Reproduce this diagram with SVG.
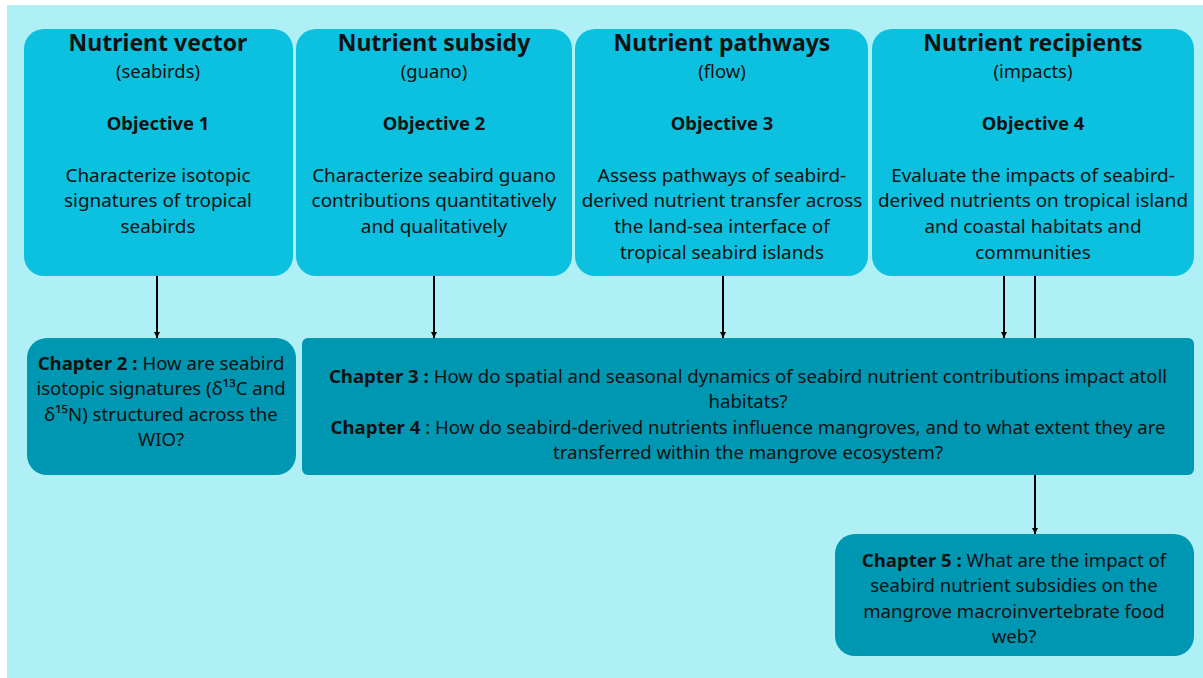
<svg xmlns="http://www.w3.org/2000/svg" width="1203" height="678" viewBox="0 0 1203 678">
<defs>
<style>
.obj{fill:#0CC0DF}
.ch{fill:#0097B2}
text{font-family:"Noto Sans","Open Sans",sans-serif;fill:#111;text-anchor:middle}
.t{font-size:23px;font-weight:bold}
.s{font-size:18.4px}
.o{font-size:18.4px;font-weight:bold}
.b{font-size:18.9px}
.c{font-size:18.6px}
.bd{font-weight:bold}
.ln{stroke:#000;stroke-width:2;fill:none}
</style>
<marker id="ah" viewBox="0 0 10 10" refX="10" refY="5" markerWidth="6" markerHeight="6" markerUnits="userSpaceOnUse" orient="auto">
<path d="M0,0 L10,5 L0,10 z" fill="#000"/>
</marker>
</defs>
<rect x="0" y="0" width="1203" height="678" fill="#fff"/>
<rect x="7" y="5" width="1196" height="673" fill="#AEF0F5"/>

<g id="obj1">
<rect class="obj" x="24" y="29" width="269" height="247" rx="20"/>
<text class="t" x="158" y="51">Nutrient vector</text>
<text class="s" x="158" y="78">(seabirds)</text>
<text class="o" x="158" y="130">Objective 1</text>
<text class="b" x="158" y="182">Characterize isotopic</text>
<text class="b" x="158" y="207">signatures of tropical</text>
<text class="b" x="158" y="233">seabirds</text>
</g>
<g id="obj2">
<rect class="obj" x="296" y="29" width="276" height="247" rx="20"/>
<text class="t" x="434" y="51">Nutrient subsidy</text>
<text class="s" x="434" y="78">(guano)</text>
<text class="o" x="434" y="130">Objective 2</text>
<text class="b" x="434" y="182">Characterize seabird guano</text>
<text class="b" x="434" y="207">contributions quantitatively</text>
<text class="b" x="434" y="233">and qualitatively</text>
</g>
<g id="obj3">
<rect class="obj" x="575" y="29" width="293" height="247" rx="20"/>
<text class="t" x="722" y="51">Nutrient pathways</text>
<text class="s" x="722" y="78">(flow)</text>
<text class="o" x="722" y="130">Objective 3</text>
<text class="b" x="722" y="182">Assess pathways of seabird-</text>
<text class="b" x="722" y="207">derived nutrient transfer across</text>
<text class="b" x="722" y="233">the land-sea interface of</text>
<text class="b" x="722" y="259">tropical seabird islands</text>
</g>
<g id="obj4">
<rect class="obj" x="872" y="29" width="322" height="247" rx="20"/>
<text class="t" x="1033" y="51">Nutrient recipients</text>
<text class="s" x="1033" y="78">(impacts)</text>
<text class="o" x="1033" y="130">Objective 4</text>
<text class="b" x="1033" y="182">Evaluate the impacts of seabird-</text>
<text class="b" x="1033" y="207">derived nutrients on tropical island</text>
<text class="b" x="1033" y="233">and coastal habitats and</text>
<text class="b" x="1033" y="259">communities</text>
</g>

<g id="chapter2">
<rect class="ch" x="27" y="338" width="269" height="137" rx="20"/>
<text class="c" x="161" y="370"><tspan class="bd">Chapter 2 :</tspan> How are seabird</text>
<text class="c" x="161" y="395">isotopic signatures (δ¹³C and</text>
<text class="c" x="161" y="421">δ¹⁵N) structured across the</text>
<text class="c" x="161" y="446">WIO?</text>
</g>
<g id="chapter34">
<rect class="ch" x="302" y="338" width="892" height="137" rx="6"/>
<text class="c" x="748" y="383"><tspan class="bd">Chapter 3 :</tspan> How do spatial and seasonal dynamics of seabird nutrient contributions impact atoll</text>
<text class="c" x="748" y="408">habitats?</text>
<text class="c" x="748" y="434"><tspan class="bd">Chapter 4</tspan> : How do seabird-derived nutrients influence mangroves, and to what extent they are</text>
<text class="c" x="748" y="459">transferred within the mangrove ecosystem?</text>
</g>
<g id="chapter5">
<rect class="ch" x="835" y="534" width="359" height="122" rx="20"/>
<text class="c" x="1014" y="567"><tspan class="bd">Chapter 5 :</tspan> What are the impact of</text>
<text class="c" x="1014" y="592">seabird nutrient subsidies on the</text>
<text class="c" x="1014" y="618">mangrove macroinvertebrate food</text>
<text class="c" x="1014" y="643">web?</text>
</g>

<g id="connectors">
<line class="ln" x1="157" y1="276" x2="157" y2="338" marker-end="url(#ah)"/>
<line class="ln" x1="434" y1="276" x2="434" y2="338" marker-end="url(#ah)"/>
<line class="ln" x1="723" y1="276" x2="723" y2="338" marker-end="url(#ah)"/>
<line class="ln" x1="1004" y1="276" x2="1004" y2="338" marker-end="url(#ah)"/>
<line class="ln" x1="1035" y1="276" x2="1035" y2="338"/>
<line class="ln" x1="1035" y1="475" x2="1035" y2="534" marker-end="url(#ah)"/>
</g>
</svg>
